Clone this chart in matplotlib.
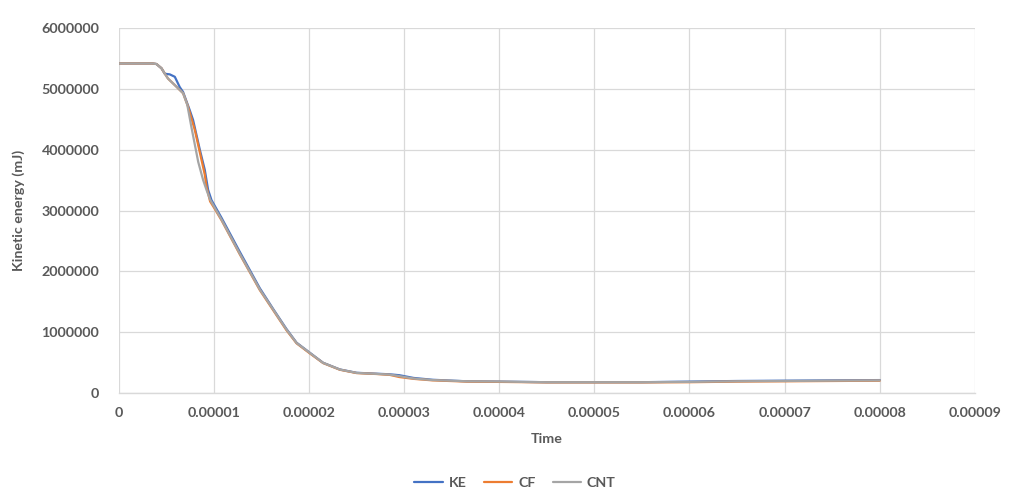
"""Kinetic energy vs time for KE / CF / CNT runs (Excel-style line chart)."""

import matplotlib
matplotlib.use("Agg")
import matplotlib.pyplot as plt
from matplotlib.ticker import FuncFormatter

# time in units of 1e-5 s, energy in units of 1e6 mJ
ke_t = [0, 0.2, 0.35, 0.396, 0.449, 0.484, 0.536, 0.589, 0.641, 0.676, 0.746,
        0.781, 0.852, 0.904, 0.939, 0.975, 1.08, 1.272, 1.483, 1.623, 1.763,
        1.869, 2.008, 2.148, 2.324, 2.50, 2.71, 2.85, 2.95, 3.1, 3.3, 3.66,
        4.0, 4.5, 5.0, 5.5, 6.0, 6.5, 7.0, 7.5, 8.0]
ke_v = [5.42, 5.42, 5.42, 5.41, 5.34, 5.25, 5.24, 5.20, 5.03, 4.95, 4.65,
        4.49, 4.00, 3.67, 3.34, 3.17, 2.88, 2.32, 1.72, 1.38, 1.05,
        0.825, 0.66, 0.495, 0.385, 0.33, 0.315, 0.305, 0.29, 0.245, 0.215, 0.19,
        0.185, 0.175, 0.175, 0.175, 0.185, 0.195, 0.20, 0.205, 0.21]

cf_t = [0, 0.2, 0.35, 0.396, 0.449, 0.484, 0.518, 0.571, 0.624, 0.676, 0.726,
        0.80, 0.87, 0.904, 0.922, 0.96, 1.0, 1.08, 1.272, 1.483, 1.623, 1.763,
        1.869, 2.008, 2.148, 2.324, 2.50, 2.71, 2.85, 2.95, 3.1, 3.3, 3.66,
        4.0, 4.5, 5.0, 5.5, 6.0, 6.5, 7.0, 7.5, 8.0]
cf_v = [5.42, 5.42, 5.42, 5.41, 5.34, 5.25, 5.17, 5.09, 5.01, 4.93, 4.72,
        4.32, 3.83, 3.59, 3.39, 3.15, 3.05, 2.84, 2.28, 1.69, 1.36, 1.03,
        0.815, 0.65, 0.49, 0.38, 0.325, 0.31, 0.295, 0.26, 0.23, 0.205, 0.185,
        0.18, 0.172, 0.172, 0.172, 0.175, 0.185, 0.19, 0.195, 0.20]

cnt_t = [0, 0.2, 0.35, 0.396, 0.449, 0.484, 0.518, 0.571, 0.624, 0.676, 0.72,
         0.765, 0.80, 0.835, 0.887, 0.922, 0.96, 1.0, 1.08, 1.272, 1.483,
         1.623, 1.763, 1.869, 2.008, 2.148, 2.324, 2.50, 2.71, 2.85, 2.95, 3.1,
         3.3, 3.66, 4.0, 4.5, 5.0, 5.5, 6.0, 6.5, 7.0, 7.5, 8.0]
cnt_v = [5.42, 5.42, 5.42, 5.41, 5.34, 5.25, 5.17, 5.09, 5.01, 4.93, 4.74,
         4.36, 4.08, 3.80, 3.50, 3.34, 3.18, 3.07, 2.85, 2.29, 1.70,
         1.37, 1.04, 0.82, 0.657, 0.493, 0.383, 0.328, 0.312, 0.30, 0.275, 0.235,
         0.21, 0.19, 0.185, 0.175, 0.175, 0.175, 0.18, 0.19, 0.195, 0.20, 0.205]

x_ticks = [0, 1e-5, 2e-5, 3e-5, 4e-5, 5e-5, 6e-5, 7e-5, 8e-5, 9e-5]
y_ticks = [0, 1e6, 2e6, 3e6, 4e6, 5e6, 6e6]

series = [
    ("KE", ke_t, ke_v, "#4472C4"),
    ("CF", cf_t, cf_v, "#ED7D31"),
    ("CNT", cnt_t, cnt_v, "#A5A5A5"),
]

plt.rcParams["font.family"] = ["Lato", "DejaVu Sans"]
TXT = "#595959"
GRID = "#D9D9D9"

fig = plt.figure(figsize=(10.24, 5.03), dpi=100)
ax = fig.add_axes([0.116, 0.219, 0.836, 0.725])

for name, t, v, col in series:
    ax.plot([x * 1e-5 for x in t], [y * 1e6 for y in v], color=col,
            linewidth=1.6, label=name, solid_capstyle="round",
            solid_joinstyle="round")

ax.set_xlim(0, 9e-5)
ax.set_ylim(0, 6e6)
ax.set_xticks(x_ticks)
ax.set_yticks(y_ticks)
ax.xaxis.set_major_formatter(FuncFormatter(lambda v, _: "0" if v == 0 else f"{v:.5f}"))
ax.yaxis.set_major_formatter(FuncFormatter(lambda v, _: f"{int(round(v))}"))
ax.tick_params(length=0, labelsize=10.3, labelcolor=TXT)
ax.tick_params(axis="y", pad=14)
ax.tick_params(axis="x", pad=10)
for lab in ax.get_xticklabels() + ax.get_yticklabels():
    lab.set_fontweight("bold")

ax.grid(True, color=GRID, linewidth=0.9)
ax.set_axisbelow(True)
for side in ("left", "right", "top"):
    ax.spines[side].set_visible(False)
ax.spines["bottom"].set_color(GRID)
ax.spines["bottom"].set_linewidth(1.0)

ax.set_xlabel("Time", fontsize=10.3, fontweight="bold", color=TXT, labelpad=10)
ax.set_ylabel("Kinetic energy (mJ)", fontsize=10.3, fontweight="bold", color=TXT,
              labelpad=12)

leg = fig.legend(loc="center", bbox_to_anchor=(0.503, 0.04), ncol=3,
                 frameon=False, handlelength=2.0, columnspacing=1.2,
                 handletextpad=0.4, prop={"size": 10.3, "weight": "bold"})
for txt in leg.get_texts():
    txt.set_color(TXT)

fig.savefig("out.png", dpi=100)
